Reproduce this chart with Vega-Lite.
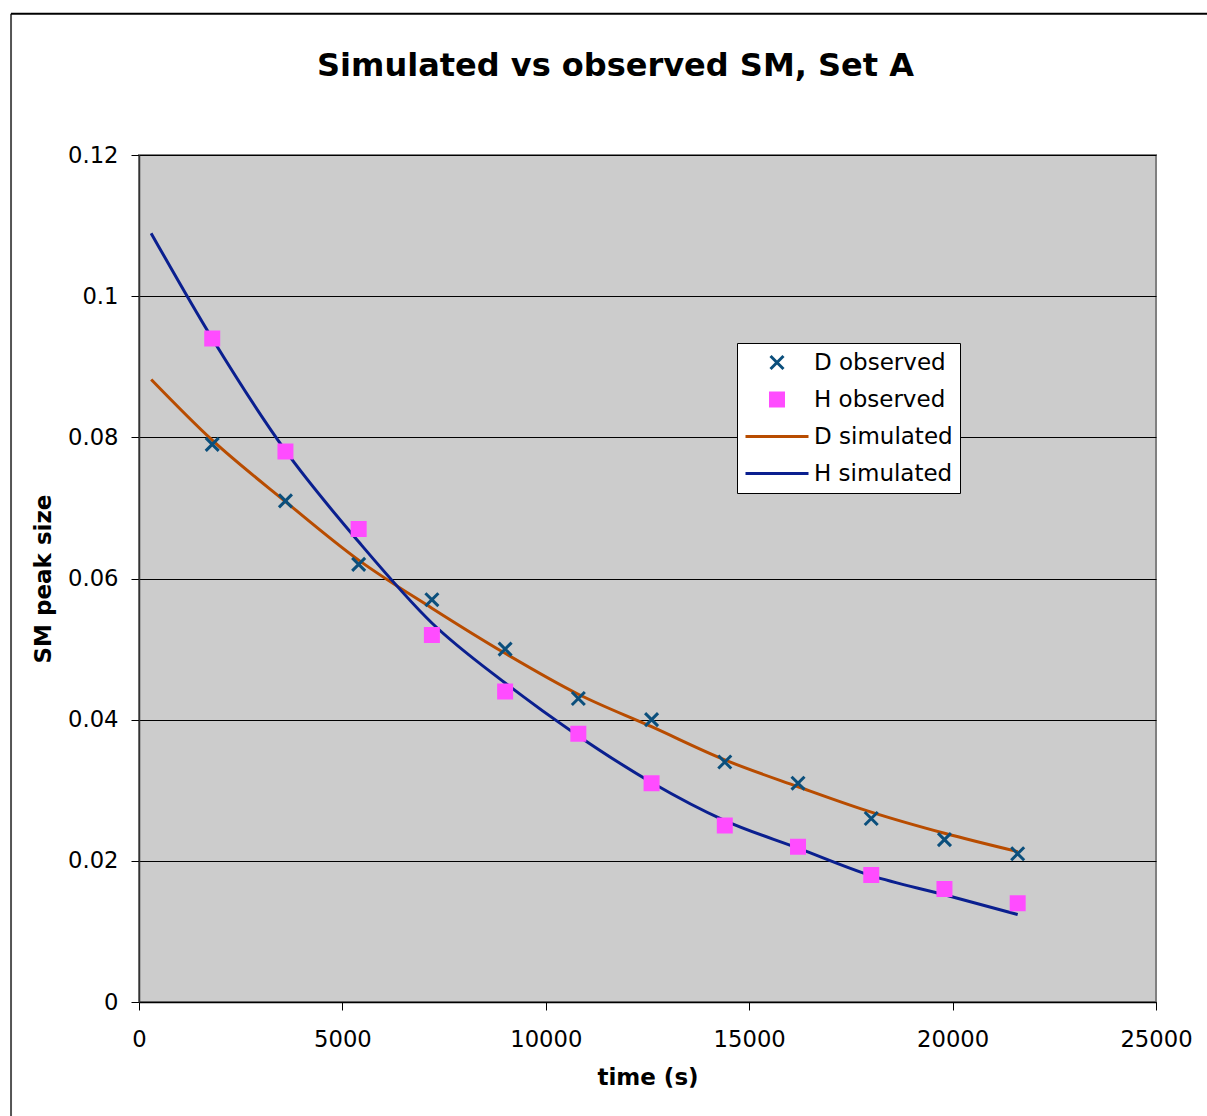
{
  "$schema": "https://vega.github.io/schema/vega-lite/v6.json",
  "width": 1017,
  "height": 847,
  "autosize": {"type": "none"},
  "padding": {"left": 139, "top": 155, "right": 51, "bottom": 114},
  "background": "white",
  "title": {
    "text": "Simulated vs observed SM, Set A",
    "font": "DejaVu Sans",
    "fontSize": 32,
    "fontWeight": "bold",
    "color": "#000000",
    "anchor": "middle",
    "frame": "group",
    "dx": -32,
    "baseline": "alphabetic",
    "offset": -95
  },
  "config": {
    "view": {"fill": "#CCCCCC", "stroke": "#808080", "strokeWidth": 2},
    "font": "DejaVu Sans"
  },
  "data": {
    "values": [
      {"series": "D observed", "kind": "obs", "t": 1800, "v": 0.079},
      {"series": "D observed", "kind": "obs", "t": 3600, "v": 0.071},
      {"series": "D observed", "kind": "obs", "t": 5400, "v": 0.062},
      {"series": "D observed", "kind": "obs", "t": 7200, "v": 0.057},
      {"series": "D observed", "kind": "obs", "t": 9000, "v": 0.050},
      {"series": "D observed", "kind": "obs", "t": 10800, "v": 0.043},
      {"series": "D observed", "kind": "obs", "t": 12600, "v": 0.040},
      {"series": "D observed", "kind": "obs", "t": 14400, "v": 0.034},
      {"series": "D observed", "kind": "obs", "t": 16200, "v": 0.031},
      {"series": "D observed", "kind": "obs", "t": 18000, "v": 0.026},
      {"series": "D observed", "kind": "obs", "t": 19800, "v": 0.023},
      {"series": "D observed", "kind": "obs", "t": 21600, "v": 0.021},
      {"series": "H observed", "kind": "obs", "t": 1800, "v": 0.094},
      {"series": "H observed", "kind": "obs", "t": 3600, "v": 0.078},
      {"series": "H observed", "kind": "obs", "t": 5400, "v": 0.067},
      {"series": "H observed", "kind": "obs", "t": 7200, "v": 0.052},
      {"series": "H observed", "kind": "obs", "t": 9000, "v": 0.044},
      {"series": "H observed", "kind": "obs", "t": 10800, "v": 0.038},
      {"series": "H observed", "kind": "obs", "t": 12600, "v": 0.031},
      {"series": "H observed", "kind": "obs", "t": 14400, "v": 0.025},
      {"series": "H observed", "kind": "obs", "t": 16200, "v": 0.022},
      {"series": "H observed", "kind": "obs", "t": 18000, "v": 0.018},
      {"series": "H observed", "kind": "obs", "t": 19800, "v": 0.016},
      {"series": "H observed", "kind": "obs", "t": 21600, "v": 0.014},
      {"series": "D simulated", "kind": "sim", "t": 300, "v": 0.0882},
      {"series": "D simulated", "kind": "sim", "t": 1800, "v": 0.0796},
      {"series": "D simulated", "kind": "sim", "t": 3600, "v": 0.0709},
      {"series": "D simulated", "kind": "sim", "t": 5400, "v": 0.0626},
      {"series": "D simulated", "kind": "sim", "t": 7200, "v": 0.0558},
      {"series": "D simulated", "kind": "sim", "t": 9000, "v": 0.0494},
      {"series": "D simulated", "kind": "sim", "t": 10800, "v": 0.0436},
      {"series": "D simulated", "kind": "sim", "t": 12600, "v": 0.0390},
      {"series": "D simulated", "kind": "sim", "t": 14400, "v": 0.0343},
      {"series": "D simulated", "kind": "sim", "t": 16200, "v": 0.0305},
      {"series": "D simulated", "kind": "sim", "t": 18000, "v": 0.0269},
      {"series": "D simulated", "kind": "sim", "t": 19800, "v": 0.0239},
      {"series": "D simulated", "kind": "sim", "t": 21600, "v": 0.0213},
      {"series": "H simulated", "kind": "sim", "t": 300, "v": 0.1089},
      {"series": "H simulated", "kind": "sim", "t": 1800, "v": 0.0940},
      {"series": "H simulated", "kind": "sim", "t": 3600, "v": 0.0781},
      {"series": "H simulated", "kind": "sim", "t": 5400, "v": 0.0652},
      {"series": "H simulated", "kind": "sim", "t": 7200, "v": 0.0537},
      {"series": "H simulated", "kind": "sim", "t": 9000, "v": 0.0452},
      {"series": "H simulated", "kind": "sim", "t": 10800, "v": 0.0377},
      {"series": "H simulated", "kind": "sim", "t": 12600, "v": 0.0311},
      {"series": "H simulated", "kind": "sim", "t": 14400, "v": 0.0257},
      {"series": "H simulated", "kind": "sim", "t": 16200, "v": 0.0218},
      {"series": "H simulated", "kind": "sim", "t": 18000, "v": 0.0179},
      {"series": "H simulated", "kind": "sim", "t": 19800, "v": 0.0152},
      {"series": "H simulated", "kind": "sim", "t": 21600, "v": 0.0124}
    ]
  },
  "layer": [
    {
      "data": {"values": [{"frame": "left"}]},
      "mark": {"type": "rule", "color": "#555555", "strokeWidth": 2, "clip": false},
      "encoding": {
        "x": {"datum": -3146, "type": "quantitative", "title": "time (s)"},
        "y": {"datum": 0.14, "type": "quantitative", "title": "SM peak size"},
        "y2": {"datum": -0.03}
      }
    },
    {
      "data": {"values": [{"frame": "top"}]},
      "mark": {"type": "rule", "color": "#000000", "strokeWidth": 2, "clip": false},
      "encoding": {
        "x": {"datum": -3146, "type": "quantitative", "title": "time (s)"},
        "x2": {"datum": 26500},
        "y": {"datum": 0.14, "type": "quantitative", "title": "SM peak size"}
      }
    },
    {
      "transform": [{"filter": "datum.kind === 'sim'"}],
      "mark": {"type": "line", "strokeWidth": 3, "interpolate": "monotone"},
      "encoding": {
        "x": {
          "field": "t", "type": "quantitative", "title": "time (s)",
          "scale": {"domain": [0, 25000], "nice": false, "zero": false},
          "axis": {
            "values": [0, 5000, 10000, 15000, 20000, 25000],
            "format": "d", "grid": false, "labelFlush": false,
            "domainColor": "#000000", "domainWidth": 1.5,
            "tickColor": "#000000", "tickSize": 8, "tickWidth": 1,
            "labelFont": "DejaVu Sans", "labelFontSize": 22.7, "labelColor": "#000000", "labelPadding": 18,
            "titleFont": "DejaVu Sans", "titleFontSize": 23, "titleFontWeight": "bold", "titleColor": "#000000", "titlePadding": 16
          }
        },
        "y": {
          "field": "v", "type": "quantitative", "title": "SM peak size",
          "scale": {"domain": [0, 0.12], "nice": false},
          "axis": {
            "values": [0, 0.02, 0.04, 0.06, 0.08, 0.1, 0.12],
            "format": "~g", "grid": true, "labelFlush": false,
            "gridColor": "#000000",
            "gridWidth": 1,
            "domainColor": "#333333", "domainWidth": 1.5,
            "tickColor": "#000000", "tickSize": 8, "tickWidth": 1,
            "labelFont": "DejaVu Sans", "labelFontSize": 22.7, "labelColor": "#000000", "labelPadding": 13,
            "titleFont": "DejaVu Sans", "titleFontSize": 23, "titleFontWeight": "bold", "titleColor": "#000000", "titlePadding": 12
          }
        },
        "color": {
          "field": "series", "type": "nominal",
          "scale": {
            "domain": ["D observed", "H observed", "D simulated", "H simulated"],
            "range": ["#0B4F7C", "#FF4CFF", "#B84C00", "#0A1F8F"]
          },
          "legend": {
            "title": null, "orient": "none", "legendX": 598, "legendY": 188,
            "fillColor": "white", "strokeColor": "black", "padding": 7, "cornerRadius": 0,
            "labelFont": "DejaVu Sans", "labelFontSize": 23, "labelColor": "#000000", "labelOffset": 4, "labelLimit": 400,
            "rowPadding": 12, "clipHeight": 25, "symbolSize": 3969, "symbolStrokeWidth": 3
          }
        }
      }
    },
    {
      "transform": [{"filter": "datum.kind === 'obs'"}],
      "mark": {"type": "point", "filled": true, "strokeWidth": 3, "opacity": 1, "size": 3969},
      "encoding": {
        "x": {"field": "t", "type": "quantitative", "title": "time (s)"},
        "y": {"field": "v", "type": "quantitative", "title": "SM peak size"},
        "color": {"field": "series", "type": "nominal"},
        "stroke": {
          "field": "series", "type": "nominal",
          "scale": {
            "domain": ["D observed", "H observed", "D simulated", "H simulated"],
            "range": ["#0B4F7C", "#FF4CFF", "#B84C00", "#0A1F8F"]
          },
          "legend": {
            "title": null, "orient": "none", "legendX": 598, "legendY": 188,
            "fillColor": "white", "strokeColor": "black", "padding": 7, "cornerRadius": 0,
            "labelFont": "DejaVu Sans", "labelFontSize": 23, "labelColor": "#000000", "labelOffset": 4, "labelLimit": 400,
            "rowPadding": 12, "clipHeight": 25, "symbolSize": 3969, "symbolStrokeWidth": 3
          }
        },
        "shape": {
          "field": "series", "type": "nominal",
          "scale": {
            "domain": ["D observed", "H observed", "D simulated", "H simulated"],
            "range": ["M-0.206,-0.206L0.206,0.206M-0.206,0.206L0.206,-0.206", "M-0.206,-0.206H0.206V0.206H-0.206Z", "stroke", "stroke"]
          },
          "legend": {
            "title": null, "orient": "none", "legendX": 598, "legendY": 188,
            "fillColor": "white", "strokeColor": "black", "padding": 7, "cornerRadius": 0,
            "labelFont": "DejaVu Sans", "labelFontSize": 23, "labelColor": "#000000", "labelOffset": 4, "labelLimit": 400,
            "rowPadding": 12, "clipHeight": 25, "symbolSize": 3969, "symbolStrokeWidth": 3
          }
        }
      }
    }
  ]
}
